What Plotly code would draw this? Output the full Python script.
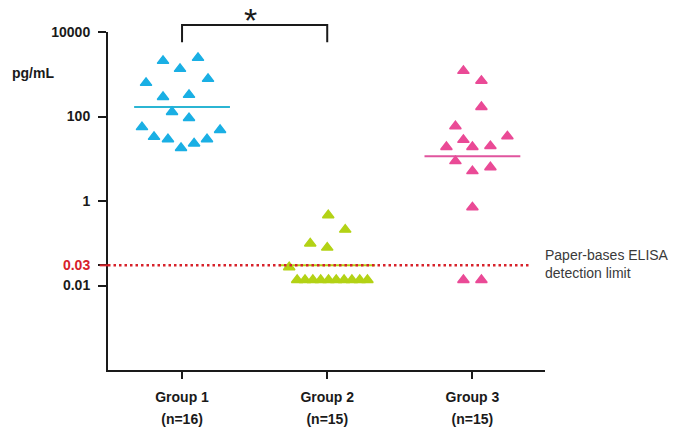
import math
import plotly.graph_objects as go

# ---- data ----
groups = ["Group 1", "Group 2", "Group 3"]
group_n = [16, 15, 15]
group_colors = ["#1AAFE4", "#B3D215", "#EA4A96"]
median_colors = ["#2BB5D3", "#B3D215", "#E0559E"]

g1_offsets = [-0.131, 0.110, -0.014, -0.248, 0.179, -0.131, 0.048, -0.069,
              0.048, -0.276, 0.262, -0.193, -0.097, 0.172, 0.083, -0.007]
g1_values = [2080, 2450, 1340, 625, 780, 290, 325, 128,
             92, 56, 48, 33, 29, 29, 23, 18]

g2_offsets = [0.007, 0.124, -0.117, 0.0, -0.262,
              -0.207, -0.153, -0.099, -0.045, 0.009, 0.062, 0.116, 0.170, 0.224, 0.277]
g2_values = [0.46, 0.21, 0.099, 0.079, 0.027,
             0.0135, 0.0135, 0.0135, 0.0135, 0.0135, 0.0135, 0.0135, 0.0135, 0.0135, 0.0135]

g3_offsets = [-0.062, 0.062, 0.062, -0.117, 0.241, -0.062, -0.179, 0.0,
              0.124, -0.117, 0.0, 0.124, 0.0, -0.062, 0.062]
g3_values = [1200, 700, 168, 59, 34, 28, 19, 19,
             20, 8.8, 5.1, 6.3, 0.71, 0.0135, 0.0135]

medians = [168, 0.03, 11.5]
detection_limit = 0.03
tick_vals = [0.01, 0.03, 1, 100, 10000]
tick_text = ["0.01", "<span style='color:#D7222B'>0.03</span>", "1", "100", "10000"]

offsets = [g1_offsets, g2_offsets, g3_offsets]
values = [g1_values, g2_values, g3_values]

fig = go.Figure()

# median lines (behind markers)
for i, m in enumerate(medians):
    pos = i + 1
    fig.add_trace(go.Scatter(
        x=[pos - 0.33, pos + 0.33], y=[m, m], mode="lines",
        line=dict(color=median_colors[i], width=2), showlegend=False, hoverinfo="skip"))

for i in range(3):
    pos = i + 1
    fig.add_trace(go.Scatter(
        x=[pos + o for o in offsets[i]], y=values[i], mode="markers",
        marker=dict(symbol="triangle-up", size=10, color=group_colors[i],
                    line=dict(color=group_colors[i], width=1.4)),
        name=groups[i], showlegend=False))

# detection limit dotted line
fig.add_shape(type="line", xref="x", yref="y", x0=0.49, x1=3.39,
              y0=detection_limit, y1=detection_limit,
              line=dict(color="#D7222B", width=2.5, dash="2.5px,3px"))
# red tick at 0.03
fig.add_shape(type="line", xref="paper", yref="y", x0=-0.019, x1=0,
              y0=detection_limit, y1=detection_limit,
              line=dict(color="#D7222B", width=2))

# significance bracket
fig.add_shape(type="path", xref="x", yref="paper",
              path="M 1,0.970 L 1,1.021 L 2,1.021 L 2,0.970",
              line=dict(color="#1a1a1a", width=2))
fig.add_annotation(x=1.5, y=1.0947, xref="x", yref="paper", text="*",
                   showarrow=False, font=dict(size=34, color="#1a1a1a",
                                              family="Liberation Sans"),
                   yanchor="top", borderpad=0, xshift=-4)

fig.add_annotation(x=-0.225, y=0.879, xref="paper", yref="paper", text="<b>pg/mL</b>",
                   showarrow=False, xanchor="left", yanchor="middle",
                   font=dict(size=14, color="#1a1a1a", family="Liberation Sans"))

# annotations on a log axis take log10 positions
fig.add_annotation(x=1.0, y=math.log10(detection_limit), xref="paper", yref="y",
                   text="Paper-bases ELISA<br>detection limit", showarrow=False,
                   xanchor="left", yanchor="middle", xshift=-2, yshift=1, align="left",
                   font=dict(size=14, color="#3a3a3a", family="Liberation Sans"))

fig.update_layout(
    width=675, height=430,
    margin=dict(l=108, r=130, t=32, b=60, autoexpand=False),
    paper_bgcolor="white", plot_bgcolor="white",
    font=dict(family="Liberation Sans", size=14, color="#1a1a1a"),
    xaxis=dict(range=[0.49, 3.5], tickvals=[1, 2, 3],
               ticktext=[f"<span style='font-size:14px'><b>{g}</b></span><br>"
                         f"<span style='font-size:14px'><b>(n={n})</b></span>"
                         for g, n in zip(groups, group_n)],
               tickfont=dict(size=16.2),
               ticklabelstandoff=4, automargin=False,
               showline=True, linecolor="#1a1a1a", linewidth=2,
               ticks="outside", ticklen=7, tickwidth=2, tickcolor="#1a1a1a",
               showgrid=False, zeroline=False),
    yaxis=dict(type="log", range=[-4, 4], tickvals=tick_vals,
               ticktext=[f"<b>{t}</b>" for t in tick_text],
               ticklabelstandoff=5, automargin=False,
               showline=True, linecolor="#1a1a1a", linewidth=2,
               ticks="outside", ticklen=8, tickwidth=2, tickcolor="#1a1a1a",
               showgrid=False, zeroline=False),
)

fig.write_html("out.html", config={"displayModeBar": False},
               post_script="document.body.style.margin='0';")
